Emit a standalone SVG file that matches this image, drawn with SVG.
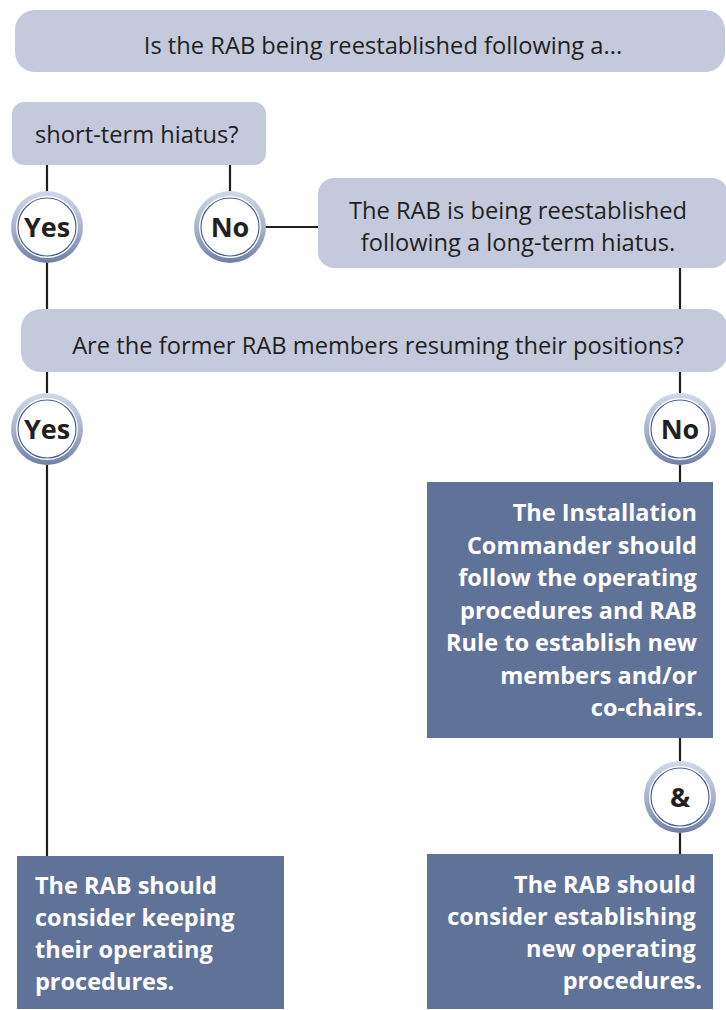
<svg xmlns="http://www.w3.org/2000/svg" width="726" height="1010" viewBox="0 0 726 1010">
<defs>
<linearGradient id="ring" x1="0" y1="0" x2="0" y2="1">
<stop offset="0" stop-color="#d3d8e8"/>
<stop offset="0.5" stop-color="#a9b3cd"/>
<stop offset="1" stop-color="#6f80a8"/>
</linearGradient>
<g id="badge">
<circle r="36" fill="url(#ring)"/>
<circle r="31" fill="#ffffff"/>
<circle r="29" fill="#ffffff" stroke="#4d6293" stroke-width="1.2"/>
</g>
</defs>
<style>
.light{fill:#c4c9dc}
.dark{fill:#5f7399}
.q{font-family:"Open Sans","Noto Sans","Liberation Sans",sans-serif;font-size:23.7px;fill:#231f20}
.w{font-family:"Open Sans","Noto Sans","Liberation Sans",sans-serif;font-size:23.5px;font-weight:bold;fill:#ffffff}
.b{font-family:"Open Sans","Noto Sans","Liberation Sans",sans-serif;font-size:27px;font-weight:bold;fill:#231f20;text-anchor:middle}
.ln{stroke:#231f20;stroke-width:2.2;fill:none}
</style>
<rect width="726" height="1010" fill="#ffffff"/>
<g id="connectors" class="ln">
<line x1="47" y1="165" x2="47" y2="192"/>
<line x1="47" y1="262" x2="47" y2="310"/>
<line x1="47" y1="372" x2="47" y2="393"/>
<line x1="47" y1="465" x2="47" y2="857"/>
<line x1="230" y1="165" x2="230" y2="192"/>
<line x1="265" y1="227" x2="319" y2="227"/>
<line x1="680" y1="268" x2="680" y2="310"/>
<line x1="680" y1="372" x2="680" y2="394"/>
<line x1="680" y1="465" x2="680" y2="483"/>
<line x1="680" y1="737" x2="680" y2="762"/>
<line x1="680" y1="833" x2="680" y2="855"/>
</g>
<g id="q1">
<rect class="light" x="15" y="10" width="710" height="62" rx="20"/>
<text class="q" x="383" y="54" text-anchor="middle">Is the RAB being reestablished following a...</text>
</g>
<g id="short">
<rect class="light" x="12" y="102" width="254" height="63" rx="12"/>
<text class="q" x="35" y="143">short-term hiatus?</text>
</g>
<g id="yes1"><use href="#badge" x="47" y="227"/><text class="b" x="47" y="236.5">Yes</text></g>
<g id="no1"><use href="#badge" x="230" y="227"/><text class="b" x="230" y="236.5">No</text></g>
<g id="long">
<rect class="light" x="318" y="178" width="410" height="90" rx="16"/>
<text class="q" x="518" y="219" text-anchor="middle">The RAB is being reestablished</text>
<text class="q" x="518" y="251" text-anchor="middle">following a long-term hiatus.</text>
</g>
<g id="q2">
<rect class="light" x="21" y="309" width="707" height="63" rx="20"/>
<text class="q" x="378" y="354" text-anchor="middle">Are the former RAB members resuming their positions?</text>
</g>
<g id="yes2"><use href="#badge" x="47" y="429"/><text class="b" x="47" y="438.5">Yes</text></g>
<g id="no2"><use href="#badge" x="680" y="429"/><text class="b" x="680" y="438.5">No</text></g>
<g id="install">
<rect class="dark" x="427" y="482" width="286" height="256"/>
<text class="w" text-anchor="end">
<tspan x="703" y="521">The Installation</tspan>
<tspan x="703" y="553.5">Commander should</tspan>
<tspan x="703" y="586">follow the operating</tspan>
<tspan x="703" y="618.5">procedures and RAB</tspan>
<tspan x="703" y="651">Rule to establish new</tspan>
<tspan x="703" y="683.5">members and/or</tspan>
<tspan x="703" y="716">co-chairs.</tspan>
</text>
</g>
<g id="amp"><use href="#badge" x="680" y="797"/><text class="b" x="680" y="806.5">&amp;</text></g>
<g id="keep">
<rect class="dark" x="17" y="856" width="267" height="153"/>
<text class="w">
<tspan x="35" y="894">The RAB should</tspan>
<tspan x="35" y="926">consider keeping</tspan>
<tspan x="35" y="958">their operating</tspan>
<tspan x="35" y="990">procedures.</tspan>
</text>
</g>
<g id="newproc">
<rect class="dark" x="427" y="854" width="286" height="155"/>
<text class="w" text-anchor="end">
<tspan x="702" y="893">The RAB should</tspan>
<tspan x="702" y="925">consider establishing</tspan>
<tspan x="702" y="957">new operating</tspan>
<tspan x="702" y="989">procedures.</tspan>
</text>
</g>
</svg>
